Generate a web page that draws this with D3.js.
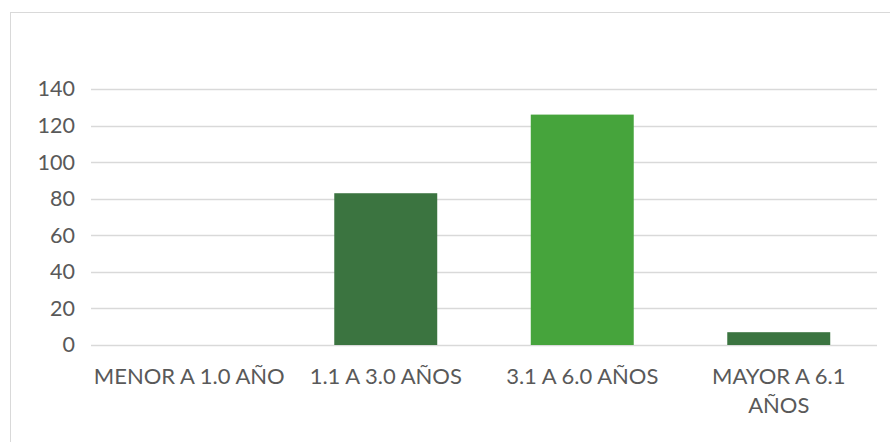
<!DOCTYPE html>
<html><head><meta charset="utf-8">
<script src="https://cdn.jsdelivr.net/npm/d3@7"></script>
<style>
html,body{margin:0;padding:0;background:#fff;}
svg{display:block;}
</style></head>
<body><svg id="chart" width="890" height="442"></svg>
<script>
const categories = ["MENOR A 1.0 AÑO", "1.1 A 3.0 AÑOS", "3.1 A 6.0 AÑOS", "MAYOR A 6.1 AÑOS"];
const values = [0, 83, 126, 7];
const barColors = ["#3B7440", "#3B7440", "#46A43C", "#3B7440"];
const yTicks = [0, 20, 40, 60, 80, 100, 120, 140];

const svg = d3.select("#chart");
const W = 890, H = 442;
const m = {left: 91, right: 13, top: 89, bottom: 97};
const font = "Lato, 'Open Sans', sans-serif";

svg.append("rect").attr("x", 10.5).attr("y", 12.5).attr("width", 900).attr("height", 460)
  .attr("fill", "#fff").attr("stroke", "#d9d9d9").attr("stroke-width", 1);

const x = d3.scaleBand().domain(categories).range([m.left, W - m.right])
  .paddingInner(0.476).paddingOuter(0.238);
const y = d3.scaleLinear().domain([0, 140]).range([H - m.bottom, m.top]);

// gridlines
svg.append("g").selectAll("line").data(yTicks).join("line")
  .attr("x1", m.left).attr("x2", W - m.right)
  .attr("y1", d => Math.round(y(d)) + 0.5).attr("y2", d => Math.round(y(d)) + 0.5)
  .attr("stroke", "#d9d9d9").attr("stroke-width", 1.5);

// y axis labels
const yAxis = d3.axisLeft(y).tickValues(yTicks).tickSize(0).tickPadding(16);
const gy = svg.append("g").attr("transform", `translate(${m.left},0)`).call(yAxis);
gy.select(".domain").remove();
gy.selectAll("text").attr("fill", "#595959").style("font-family", font).style("font-size", "21.5px");

// bars
svg.append("g").selectAll("rect").data(values).join("rect")
  .attr("x", (d, i) => x(categories[i]))
  .attr("width", x.bandwidth())
  .attr("y", d => y(d))
  .attr("height", d => y(0) - y(d))
  .attr("fill", (d, i) => barColors[i]);

// x axis labels
const xAxis = d3.axisBottom(x).tickSize(0).tickPadding(23);
const gx = svg.append("g").attr("transform", `translate(0,${y(0)})`).call(xAxis);
gx.select(".domain").remove();
gx.selectAll("text").attr("fill", "#595959").style("font-family", font).style("font-size", "22px");

// wrap labels wider than the band step
const maxW = x.step() - 2;
gx.selectAll("text").each(function() {
  const t = d3.select(this);
  const words = t.text().split(/\s+/);
  t.text(null);
  const dy = t.attr("dy");
  let line = [];
  let ts = t.append("tspan").attr("x", 0).attr("dy", dy);
  words.forEach(w => {
    line.push(w);
    ts.text(line.join(" "));
    if (ts.node().getComputedTextLength() > maxW && line.length > 1) {
      line.pop();
      ts.text(line.join(" "));
      line = [w];
      ts = t.append("tspan").attr("x", 0).attr("dy", "1.32em").text(w);
    }
  });
});
</script></body></html>
